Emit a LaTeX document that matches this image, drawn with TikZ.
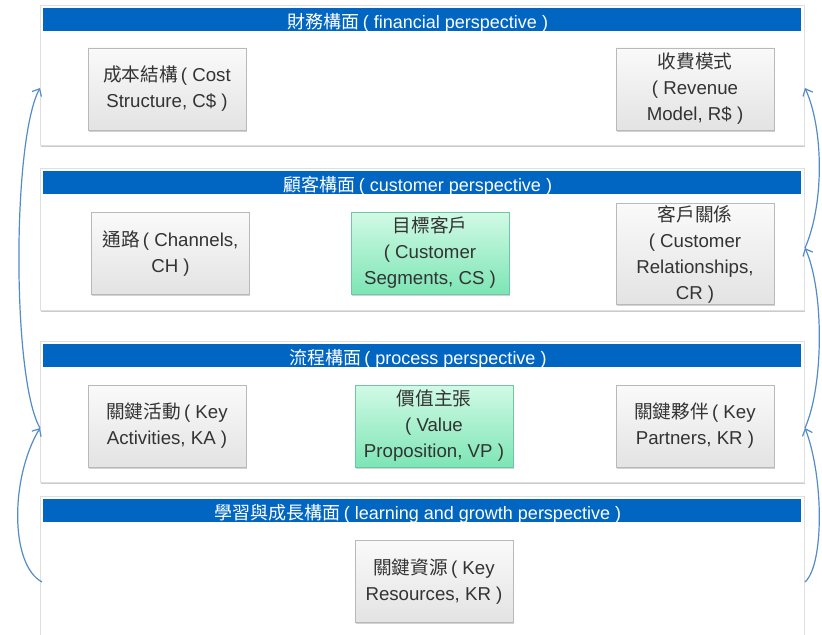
\documentclass[tikz,border=0pt]{standalone}
\usepackage{fontspec}
\setmainfont{Liberation Sans}
\newfontfamily\cjk{Noto Sans CJK TC}
\newcommand{\zh}[1]{{\cjk #1}}
\definecolor{myblue}{rgb}{0.,0.40,0.76}
\definecolor{myarrow}{rgb}{0.33,0.55,0.78}
\definecolor{mytext}{rgb}{0.2,0.2,0.2}
\definecolor{mymint}{rgb}{0.82,0.98,0.90}
\definecolor{mymintdark}{rgb}{0.49,0.90,0.71}
\definecolor{myedge}{rgb}{0.43,0.78,0.63}
\usetikzlibrary{positioning,shadows,arrows.meta}

\tikzset{
    panel/.style={draw=gray!25, fill=white, minimum width=573pt, inner sep=0pt,
        drop shadow={shadow xshift=0.8pt, shadow yshift=-1.5pt, fill=gray!80, opacity=.5}},
    bar/.style={fill=myblue, minimum width=568.5pt, minimum height=17.25pt, inner sep=0pt},
    title/.style={text=white, font=\fontsize{13.5}{15}\selectfont, anchor=base, inner sep=0pt},
    block/.style={draw=gray!55, top color=gray!4, bottom color=gray!22,
        minimum width=118.5pt, minimum height=61.5pt, align=center, text=mytext,
        font=\fontsize{14}{19.5}\selectfont, inner sep=1pt,
        drop shadow={shadow xshift=0.6pt, shadow yshift=-1.2pt, opacity=.35}},
    core/.style={block, draw=myedge, top color=mymint, bottom color=mymintdark},
    flow/.style={draw=myarrow, line width=0.9pt, -{Straight Barb[length=4.5pt,width=8pt]}},
}

\begin{document}
\begin{tikzpicture}[x=0.75pt, y=-0.75pt]
    \path[use as bounding box, fill=white] (0,0) rectangle (822,635);

    \node (fin) [panel, minimum height=105pt] at (422,75) {};
    \node (cus) [panel, minimum height=106.5pt] at (422,239) {};
    \node (pro) [panel, minimum height=105.75pt] at (422,411.5) {};
    \node (lea) [panel, minimum height=108pt] at (422,568) {};

    \node (fin-bar) [bar] at (422,19.5) {};
    \node (cus-bar) [bar] at (422,182.5) {};
    \node (pro-bar) [bar] at (422,355.5) {};
    \node (lea-bar) [bar] at (422,510.5) {};
    \node (fin-title) [title] at (418,28.5) {\zh{財務構面}\,( financial perspective )};
    \node (cus-title) [title] at (418,191.5) {\zh{顧客構面}\,( customer perspective )};
    \node (pro-title) [title] at (418,364.5) {\zh{流程構面}\,( process perspective )};
    \node (lea-title) [title] at (418,519.5) {\zh{學習與成長構面}\,( learning and growth perspective )};

    \node (cost) [block] at (167,89) {\zh{成本結構}\,( Cost\\Structure, C\$ )};
    \node (revenue) [block] at (695,89) {\zh{收費模式}\\( Revenue\\Model, R\$ )};
    \node (channels) [block] at (170.5,253.5) {\zh{通路}\,( Channels,\\CH )};
    \node (segments) [core] at (430,253) {\zh{目標客戶}\\( Customer\\Segments, CS )};
    \node (relations) [block] at (695,254) {\zh{客戶關係}\\( Customer\\Relationships,\\CR )};
    \node (activities) [block] at (167,426) {\zh{關鍵活動}\,( Key\\Activities, KA )};
    \node (value) [core] at (434,426) {\zh{價值主張}\\( Value\\Proposition, VP )};
    \node (partners) [block] at (695,426) {\zh{關鍵夥伴}\,( Key\\Partners, KR )};
    \node (resources) [block] at (434,581.5) {\zh{關鍵資源}\,( Key\\Resources, KR )};

    \coordinate (l1) at (40,88);
    \coordinate (l3) at (40,428);
    \coordinate (l4) at (42,582);
    \coordinate (r1) at (805,88);
    \coordinate (r2) at (805,248);
    \coordinate (r3) at (805,428);
    \coordinate (r4) at (805,582);

    \draw[flow] (l4) .. controls (10,565) and (10,478) .. (l3);
    \draw[flow] (l3) .. controls (12,380) and (12,140) .. (l1);
    \draw[flow] (r4) .. controls (824,565) and (824,478) .. (r3);
    \draw[flow] (r3) .. controls (824,385) and (824,290) .. (r2);
    \draw[flow] (r2) .. controls (824,205) and (824,130) .. (r1);
\end{tikzpicture}
\end{document}
